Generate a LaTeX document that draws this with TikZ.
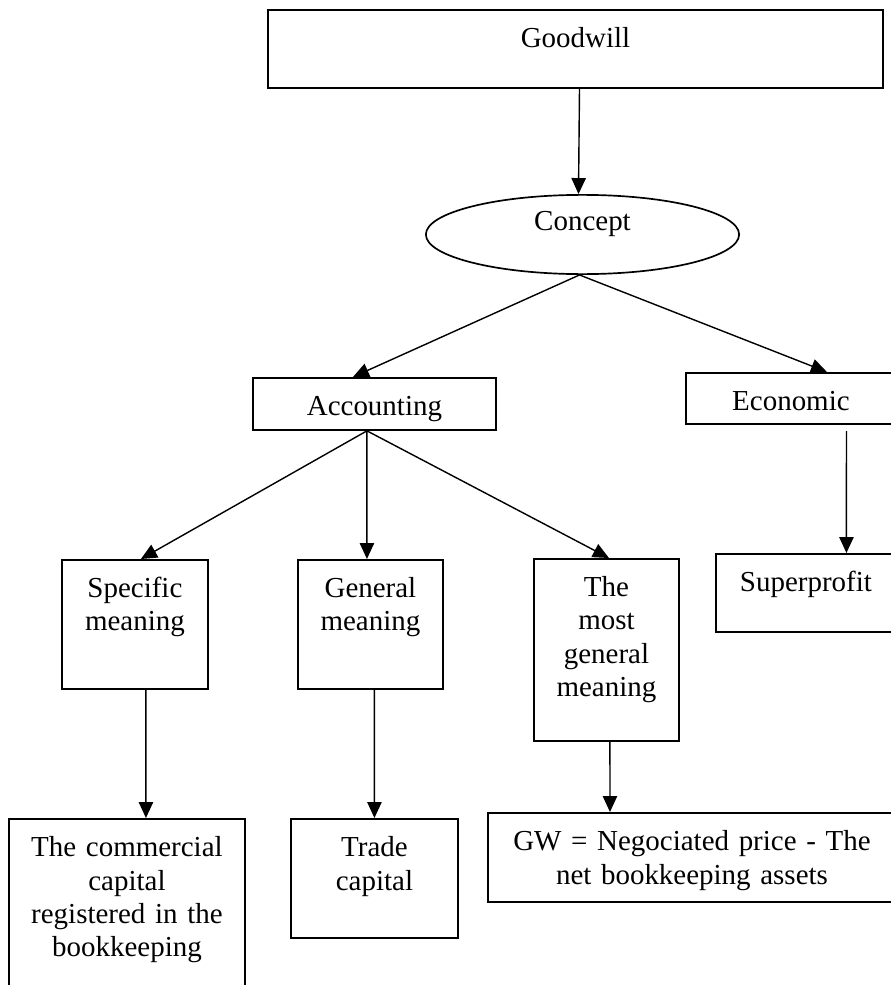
\documentclass[tikz,border=0pt]{standalone}
\usepackage{fontspec}
\setmainfont{Liberation Serif}
\usetikzlibrary{shapes.geometric,arrows.meta,calc}
\begin{document}
\begin{tikzpicture}[->, >={Triangle[length=0.4cm,width=0.36cm]}, x=0.025cm, y=-0.025cm, line width=1pt,
    box/.style={rectangle, draw, line width=1.3pt, inner sep=0pt, anchor=north west, align=center, text height=0.94cm},
    oval node/.style={ellipse, draw, line width=1.2pt, inner sep=0pt, minimum width=7.83cm, minimum height=1.98cm, text height=0.5cm, text depth=0.72cm}]
            \tikzstyle{every node}=[font=\fontsize{20.6}{23.8}\selectfont]
            \clip (0,0) rectangle (891,985);

              \node[box, text width=15.375cm, text depth=1.01cm] (goodwill) at (267,9) {Goodwill};
              \node[oval node] (concept) at (582.5,234.5) {Concept};
              \node[box, text width=6.075cm, text depth=0.36cm] (acc) at (252,377) {Accounting};
              \node[box, text width=5.25cm, text depth=0.34cm] (econ) at (685,372) {Economic};
              \node[box, text width=3.65cm, text depth=2.29cm] (spec) at (61,559) {Specific\\meaning};
              \node[box, text width=3.625cm, text depth=2.29cm] (gen) at (297,559) {General\\meaning};
              \node[box, text width=3.625cm, text depth=3.61cm] (most) at (533,558) {The\\most\\general\\meaning};
              \node[box, text width=4.5cm, text depth=1.01cm] (super) at (715,553) {Superprofit};
              \node[box, text width=5.9cm, text depth=3.56cm] (comm) at (8,818) {The commercial\\capital\\registered in the\\bookkeeping};
              \node[box, text width=4.175cm, text depth=2.04cm] (trade) at (290,818) {Trade\\capital};
              \node[box, text width=10.2cm, text depth=1.29cm] (gw) at (487,812) {GW = Negociated price - The\\net bookkeeping assets};

              \coordinate (concept-fork) at ($(concept.south)+(-3,0)$);
              \coordinate (acc-fork) at ($(acc.south)+(-7.5,0)$);

              \path ($(goodwill.south)+(4,0)$) edge ($(concept.north)+(-4,0)$);
              \path (concept-fork) edge ($(acc.north)+(-21.5,0)$)
                	edge ($(econ.north)+(36,0)$);
              \path ($(econ.south)+(55.5,6)$) edge ($(super.north)+(40.5,0)$);
              \path (acc-fork) edge ($(spec.north)+(6,0)$)
                	edge ($(gen.north)+(-3.5,0)$)
                	edge ($(most.north)+(2.5,0)$);
              \path ($(spec.south)+(11,0)$) edge ($(comm.north)+(19,0)$);
              \path ($(gen.south)+(4,0)$) edge (trade.north);
              \path ($(most.south)+(3.5,0)$) edge ($(gw.north)+(-82,0)$);

\end{tikzpicture}
\end{document}
